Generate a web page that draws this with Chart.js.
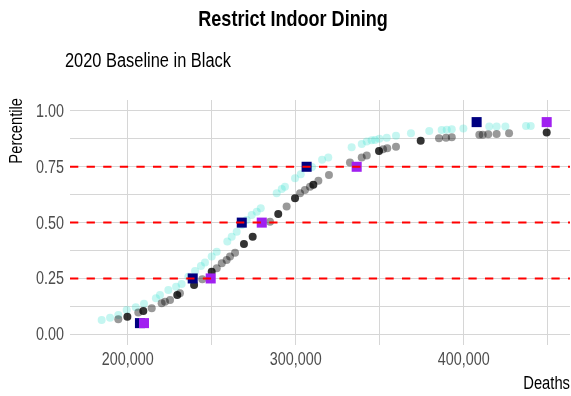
<!DOCTYPE html>
<html>
<head>
<meta charset="utf-8">
<script src="https://cdn.jsdelivr.net/npm/chart.js@4.4.1/dist/chart.umd.min.js"></script>
<style>
  html, body { margin: 0; padding: 0; background: #fff; overflow: hidden; }
  canvas { display: block; }
</style>
</head>
<body>
<canvas id="chart" width="571" height="396"></canvas>
<script>
const FONT = '"Liberation Sans", Arial, sans-serif';
const SQUEEZE = 0.82; // narrow lettering

// simulated deaths vs. percentile, restrict indoor dining scenario
const diningDeaths = [184500, 189500, 194400, 199400, 204800, 209700, 216800, 219200, 224200, 228800,
  232100, 236100, 240100, 243600, 246000, 250000, 253000, 259300, 261900, 264900,
  267900, 270800, 273800, 276800, 279200, 288700, 291700, 293600, 299600, 303000,
  309700, 315700, 319400, 333300, 339300, 342300, 345200, 347200, 349800, 354200,
  359700, 368600, 379500, 386900, 389900, 392900, 399800, 415200, 419600, 424800,
  437100, 439900];
const diningPct = [0.064, 0.074, 0.086, 0.109, 0.121, 0.137, 0.161, 0.176, 0.198, 0.213,
  0.225, 0.258, 0.283, 0.306, 0.321, 0.348, 0.370, 0.415, 0.437, 0.459,
  0.489, 0.512, 0.534, 0.549, 0.564, 0.631, 0.651, 0.661, 0.699, 0.717,
  0.749, 0.781, 0.791, 0.837, 0.852, 0.863, 0.869, 0.870, 0.875, 0.880,
  0.889, 0.900, 0.910, 0.915, 0.916, 0.918, 0.921, 0.930, 0.930, 0.930,
  0.933, 0.933];

// 2020 baseline runs
const baselineDeaths = [194400, 206300, 214300, 220200, 222200, 225200, 231100, 244400, 253000, 256000,
  258900, 260900, 263900, 284700, 294600, 302600, 305500, 308500, 313500, 319800,
  332300, 339300, 342300, 352000, 354500, 359700, 385300, 389500, 392900, 409300,
  411300, 414600, 419600, 427000];
const baselinePct = [0.067, 0.097, 0.116, 0.139, 0.146, 0.154, 0.184, 0.246, 0.296, 0.318,
  0.333, 0.348, 0.365, 0.504, 0.572, 0.631, 0.646, 0.661, 0.687, 0.713,
  0.769, 0.791, 0.801, 0.829, 0.833, 0.840, 0.878, 0.880, 0.882, 0.893,
  0.893, 0.896, 0.897, 0.900];

// baseline runs that landed on the same outcome several times
const repeatDeaths = [199800, 209300, 229500, 239500, 250000, 269200, 274400, 289600, 299600, 310500,
  349600, 374400, 449400];
const repeatPct = [0.079, 0.104, 0.176, 0.221, 0.280, 0.404, 0.437, 0.539, 0.609, 0.669,
  0.821, 0.866, 0.904];

// quantile markers
const quantiles = [0.05, 0.25, 0.5, 0.75, 0.95];
const diningQuantileDeaths = [207300, 238700, 267900, 306500, 407700];
const baselineQuantileDeaths = [209700, 249400, 279800, 336300, 449400];

// reference lines
const refLevels = [0.25, 0.5, 0.75];

// axes
const xMin = 165655, xMax = 463274;
const yMin = -0.048, yMax = 1.049;
const xTickValues = [200000, 250000, 300000, 350000, 400000, 450000];
const xTickLabels = ['200,000', '', '300,000', '', '400,000', ''];
const yTickValues = [0, 0.125, 0.25, 0.375, 0.5, 0.625, 0.75, 0.875, 1];
const yTickLabels = ['0.00', '', '0.25', '', '0.50', '', '0.75', '', '1.00'];

const toPoints = (xs, ys) => xs.map((x, i) => ({ x, y: ys[i] }));

const refDatasets = refLevels.map(level => ({
  type: 'line',
  data: [{ x: xMin, y: level }, { x: xMax, y: level }],
  borderColor: '#ff0000',
  borderWidth: 2,
  borderDash: [8.3, 8.3],
  pointRadius: 0,
  order: 1
}));

function narrowText(ctx, text, x, y, align, baseline) {
  ctx.save();
  ctx.translate(x, y);
  ctx.scale(SQUEEZE, 1);
  ctx.textAlign = align;
  ctx.textBaseline = baseline;
  ctx.fillText(text, 0, 0);
  ctx.restore();
}

// titles, tick labels and axis titles
const labelsPlugin = {
  id: 'labels',
  afterDraw(chart) {
    const ctx = chart.ctx;
    const area = chart.chartArea;
    const xs = chart.scales.x;
    const ys = chart.scales.y;
    ctx.save();

    ctx.fillStyle = '#000';
    ctx.font = 'bold 22px ' + FONT;
    narrowText(ctx, 'Restrict Indoor Dining', 293, 26, 'center', 'alphabetic');

    ctx.font = '20px ' + FONT;
    narrowText(ctx, '2020 Baseline in Black', 65, 67, 'left', 'alphabetic');

    ctx.fillStyle = '#4d4d4d';
    ctx.font = '17.5px ' + FONT;
    xTickValues.forEach((v, i) => {
      if (xTickLabels[i]) narrowText(ctx, xTickLabels[i], xs.getPixelForValue(v), 365, 'center', 'alphabetic');
    });
    yTickValues.forEach((v, i) => {
      if (yTickLabels[i]) narrowText(ctx, yTickLabels[i], 64, ys.getPixelForValue(v) + 6, 'right', 'alphabetic');
    });

    ctx.fillStyle = '#000';
    ctx.font = '18px ' + FONT;
    narrowText(ctx, 'Deaths', area.right, 389, 'right', 'alphabetic');

    ctx.translate(22, area.top - 2);
    ctx.rotate(-Math.PI / 2);
    ctx.scale(SQUEEZE, 1);
    ctx.textAlign = 'right';
    ctx.fillText('Percentile', 0, 0);
    ctx.restore();
  }
};

new Chart(document.getElementById('chart'), {
  type: 'scatter',
  data: {
    datasets: [
      {
        data: toPoints(diningDeaths, diningPct),
        backgroundColor: 'rgba(64, 224, 208, 0.3)',
        borderWidth: 0,
        pointRadius: 4,
        order: 6
      },
      {
        data: toPoints(baselineDeaths, baselinePct),
        backgroundColor: 'rgba(0, 0, 0, 0.4)',
        borderWidth: 0,
        pointRadius: 4,
        order: 5
      },
      {
        data: toPoints(repeatDeaths, repeatPct),
        backgroundColor: 'rgba(0, 0, 0, 0.8)',
        borderWidth: 0,
        pointRadius: 4,
        order: 4
      },
      {
        data: toPoints(diningQuantileDeaths, quantiles),
        pointStyle: 'rect',
        backgroundColor: '#000080',
        borderWidth: 0,
        pointRadius: 7.1,
        order: 3
      },
      {
        data: toPoints(baselineQuantileDeaths, quantiles),
        pointStyle: 'rect',
        backgroundColor: '#a020f0',
        borderWidth: 0,
        pointRadius: 7.1,
        order: 2
      },
      ...refDatasets
    ]
  },
  options: {
    responsive: false,
    animation: false,
    devicePixelRatio: 1,
    layout: { autoPadding: false, padding: { top: 100, right: 1, left: 0, bottom: 0 } },
    plugins: {
      legend: { display: false },
      tooltip: { enabled: false },
      title: { display: false }
    },
    scales: {
      x: {
        type: 'linear',
        min: xMin,
        max: xMax,
        border: { display: false },
        grid: { color: '#d6d6d6', lineWidth: 1, drawTicks: false },
        afterBuildTicks: scale => { scale.ticks = xTickValues.map(value => ({ value })); },
        afterFit: scale => { scale.height = 51; },
        ticks: { display: false }
      },
      y: {
        type: 'linear',
        min: yMin,
        max: yMax,
        border: { display: false },
        grid: { color: '#d6d6d6', lineWidth: 1, drawTicks: false },
        afterBuildTicks: scale => { scale.ticks = yTickValues.map(value => ({ value })); },
        afterFit: scale => { scale.width = 70; },
        ticks: { display: false }
      }
    }
  },
  plugins: [labelsPlugin]
});
</script>
</body>
</html>
